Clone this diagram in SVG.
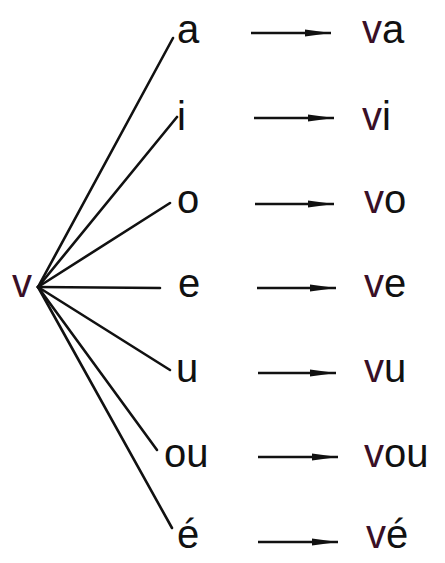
<svg xmlns="http://www.w3.org/2000/svg" width="445" height="563" viewBox="0 0 445 563">
<defs>
<style>
.t{font-family:"Liberation Sans",Arial,sans-serif;font-size:40px;fill:#111}
.v{fill:#3a0f26}
.fan{stroke:#111;stroke-width:2.6;fill:none;stroke-linecap:round}
.arr{stroke:#111;stroke-width:2.6;fill:none}
</style>
<marker id="ah" markerUnits="userSpaceOnUse" markerWidth="28" markerHeight="10" refX="26" refY="5" orient="auto">
<path d="M0,1.6 L26,5 L0,8.4 Z" fill="#111"/>
</marker>
</defs>
<rect width="445" height="563" fill="#fff"/>
<g id="connectors">
<line class="fan" x1="38" y1="287" x2="173" y2="38"/>
<line class="fan" x1="38" y1="287" x2="177" y2="117"/>
<line class="fan" x1="38" y1="287" x2="170" y2="203"/>
<line class="fan" x1="38" y1="287" x2="160" y2="288"/>
<line class="fan" x1="38" y1="287" x2="170" y2="370"/>
<line class="fan" x1="38" y1="287" x2="157" y2="450"/>
<line class="fan" x1="38" y1="287" x2="172" y2="528"/>
<line class="arr" x1="251" y1="33" x2="331" y2="33" marker-end="url(#ah)"/>
<line class="arr" x1="254" y1="118" x2="334" y2="118" marker-end="url(#ah)"/>
<line class="arr" x1="255" y1="204" x2="334" y2="204" marker-end="url(#ah)"/>
<line class="arr" x1="257" y1="288" x2="336" y2="288" marker-end="url(#ah)"/>
<line class="arr" x1="258" y1="373" x2="336" y2="373" marker-end="url(#ah)"/>
<line class="arr" x1="258" y1="457" x2="338" y2="457" marker-end="url(#ah)"/>
<line class="arr" x1="258" y1="542" x2="338" y2="542" marker-end="url(#ah)"/>
</g>
<g id="root"><text class="t v" x="12" y="297">v</text></g>
<g id="n-a"><text class="t" x="177" y="43">a</text></g>
<g id="n-i"><text class="t" x="177" y="130">i</text></g>
<g id="n-o"><text class="t" x="177" y="213">o</text></g>
<g id="n-e"><text class="t" x="178" y="297">e</text></g>
<g id="n-u"><text class="t" x="176" y="382">u</text></g>
<g id="n-ou"><text class="t" x="164" y="467">ou</text></g>
<g id="n-eacute"><text class="t" x="177" y="548">é</text></g>
<g id="r-va"><text class="t" x="362" y="43"><tspan class="v">v</tspan>a</text></g>
<g id="r-vi"><text class="t" x="362" y="130"><tspan class="v">v</tspan>i</text></g>
<g id="r-vo"><text class="t" x="364" y="213"><tspan class="v">v</tspan>o</text></g>
<g id="r-ve"><text class="t" x="364" y="297"><tspan class="v">v</tspan>e</text></g>
<g id="r-vu"><text class="t" x="364" y="382"><tspan class="v">v</tspan>u</text></g>
<g id="r-vou"><text class="t" x="364" y="467"><tspan class="v">v</tspan>ou</text></g>
<g id="r-ve2"><text class="t" x="366" y="548"><tspan class="v">v</tspan>é</text></g>
</svg>
